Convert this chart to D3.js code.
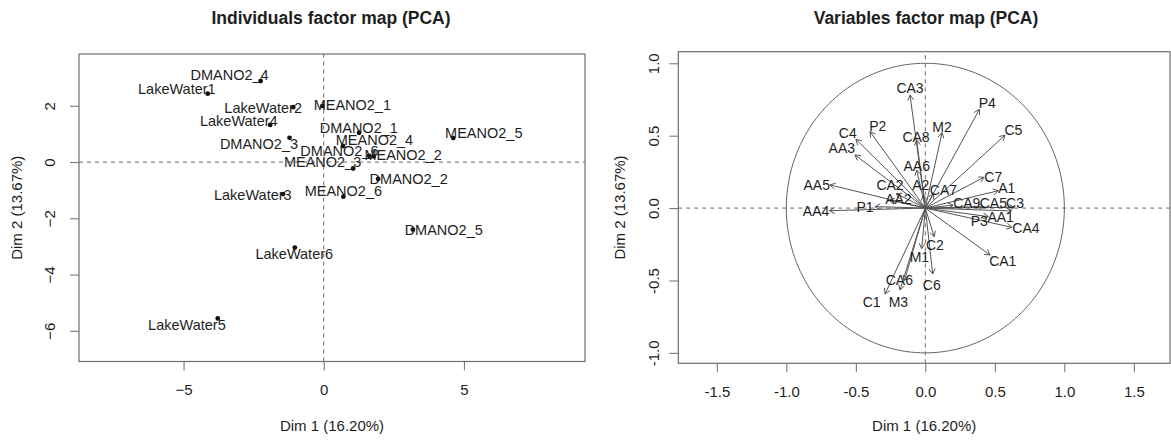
<!DOCTYPE html>
<html>
<head>
<meta charset="utf-8">
<script src="https://cdn.jsdelivr.net/npm/d3@7"></script>
<style>
  html, body { margin: 0; padding: 0; background: #fff; }
  svg { display: block; font-family: "Liberation Sans", Arial, Helvetica, sans-serif; }
</style>
</head>
<body>
<svg id="chart" width="1171" height="440"></svg>
<script>
// ---------- Individuals (PCA scores) ----------
const indNames = ["DMANO2_1","DMANO2_2","DMANO2_3","DMANO2_4","DMANO2_5","DMANO2_6",
                  "MEANO2_1","MEANO2_2","MEANO2_3","MEANO2_4","MEANO2_5","MEANO2_6",
                  "LakeWater1","LakeWater2","LakeWater3","LakeWater4","LakeWater5","LakeWater6"];
const indDim1 = [1.26, 1.94, -1.22, -2.25, 3.18, 1.62, -0.05, 1.78, 1.05, 0.69, 4.62, 0.70, -4.14, -1.09, -1.45, -1.91, -3.78, -1.03];
const indDim2 = [1.04, -0.60, 0.86, 2.88, -2.40, 0.22, 1.99, 0.20, -0.23, 0.57, 0.85, -1.23, 2.43, 1.95, -1.14, 1.32, -5.56, -3.04];
// label anchor positions (data units, as placed by autoLab)
const indLabDim1 = [1.25, 3.03, -2.31, -3.36, 4.28, 0.56, 1.02, 2.83, -0.04, 1.81, 5.71, 0.70, -5.24, -2.16, -2.53, -3.03, -4.88, -1.05];
const indLabDim2 = [1.22, -0.60, 0.66, 3.10, -2.42, 0.40, 2.03, 0.27, -0.01, 0.78, 1.02, -1.03, 2.59, 1.93, -1.17, 1.47, -5.80, -3.27];

const indXTicks = [-5, 0, 5];
const indYTicks = [-6, -4, -2, 0, 2];

// ---------- Variables (correlation circle) ----------
const varNames = ["CA3","P4","C5","M2","P2","CA8","C4","AA3","AA6","C7","A2","CA2","CA7","A1","AA5","AA2",
                  "CA9","CA5","C3","AA4","P1","P3","AA1","CA4","C2","CA1","M1","C6","CA6","C1","M3"];
const varDim1 = [-0.11, 0.389, 0.573, 0.120, -0.398, -0.062, -0.499, -0.506, -0.062, 0.422, -0.014, -0.21, 0.06, 0.525, -0.686, -0.26,
                 0.20, 0.42, 0.64, -0.69, -0.362, 0.453, 0.62, 0.622, 0.063, 0.465, -0.026, 0.053, -0.15, -0.29, -0.182];
const varDim2 = [0.78, 0.682, 0.503, 0.521, 0.528, 0.470, 0.475, 0.367, 0.263, 0.213, 0.09, 0.10, 0.10, 0.12, 0.16, 0.055,
                 0.02, 0.01, 0.005, -0.018, 0.010, -0.059, -0.02, -0.133, -0.197, -0.324, -0.28, -0.455, -0.50, -0.593, -0.566];
const varLabDim1 = [-0.11, 0.446, 0.633, 0.120, -0.342, -0.067, -0.558, -0.601, -0.062, 0.489, -0.033, -0.254, 0.130, 0.586, -0.781, -0.194,
                    0.298, 0.489, 0.645, -0.786, -0.434, 0.388, 0.542, 0.724, 0.069, 0.557, -0.043, 0.046, -0.187, -0.386, -0.194];
const varLabDim2 = [0.83, 0.724, 0.539, 0.562, 0.569, 0.493, 0.521, 0.413, 0.291, 0.213, 0.160, 0.160, 0.125, 0.137, 0.160, 0.061,
                    0.033, 0.033, 0.037, -0.018, 0.010, -0.087, -0.059, -0.140, -0.255, -0.363, -0.336, -0.531, -0.497, -0.646, -0.646];

const varXTicks = [-1.5, -1.0, -0.5, 0.0, 0.5, 1.0, 1.5];
const varYTicks = [-1.0, -0.5, 0.0, 0.5, 1.0];

const titles = ["Individuals factor map (PCA)", "Variables factor map (PCA)"];
const xLabel = "Dim 1 (16.20%)";
const yLabel = "Dim 2 (13.67%)";

// ---------- drawing ----------
const svg = d3.select("#chart");
const boxCol = "#6e6e6e", txtCol = "#1e1e1e", dashCol = "#6a6a6a";

function panel(opt) {
  const {x, y, xTicks, yTicks, xFmt, yFmt, title, titleX} = opt;
  const g = svg.append("g");
  const [x0, x1] = x.range(), [y0, y1] = y.range();
  // title
  g.append("text").attr("x", titleX).attr("y", 18).attr("dy", "0.35em")
    .attr("text-anchor", "middle").attr("font-weight", "bold").attr("font-size", 17.5)
    .attr("fill", txtCol).text(title);
  // x axis
  const ax = g.append("g").attr("transform", `translate(0,${y0})`)
    .call(d3.axisBottom(x).tickValues(xTicks).tickSize(9).tickSizeOuter(0).tickPadding(0).tickFormat(xFmt));
  ax.select(".domain").remove();
  ax.selectAll("line").attr("stroke", boxCol);
  ax.selectAll("text").attr("y", 28).attr("dy", "0.35em").attr("font-size", 15).attr("fill", txtCol).attr("font-family", null);
  // y axis
  const ay = g.append("g").attr("transform", `translate(${x0},0)`)
    .call(d3.axisLeft(y).tickValues(yTicks).tickSize(9).tickSizeOuter(0).tickPadding(0).tickFormat(yFmt));
  ay.select(".domain").remove();
  ay.selectAll("line").attr("stroke", boxCol);
  ay.selectAll("text").attr("x", 0).attr("y", opt.yLabOff).attr("dy", "0.35em")
    .attr("text-anchor", "middle").attr("transform", "rotate(-90)")
    .attr("font-size", 15).attr("fill", txtCol).attr("font-family", null);
  // axis titles
  g.append("text").attr("x", (x0 + x1) / 2).attr("y", 426).attr("dy", "0.35em")
    .attr("text-anchor", "middle").attr("font-size", 15).attr("fill", txtCol).text(xLabel);
  g.append("text").attr("transform", `translate(${opt.yTitleX},${(y0 + y1) / 2}) rotate(-90)`)
    .attr("dy", "0.35em").attr("text-anchor", "middle").attr("font-size", 15).attr("fill", txtCol).text(yLabel);
  // dashed reference lines
  g.append("line").attr("x1", x(0)).attr("x2", x(0)).attr("y1", y0).attr("y2", y1)
    .attr("stroke", dashCol).attr("stroke-dasharray", "4,4");
  g.append("line").attr("x1", x0).attr("x2", x1).attr("y1", y(0)).attr("y2", y(0))
    .attr("stroke", dashCol).attr("stroke-dasharray", "4,4");
  // box
  g.append("rect").attr("x", x0).attr("y", y1).attr("width", x1 - x0).attr("height", y0 - y1)
    .attr("fill", "none").attr("stroke", boxCol).attr("stroke-width", 1.2);
  return g;
}

// Left panel
const xL = d3.scaleLinear().domain([-8.73, 9.32]).range([79, 585]);
const yL = d3.scaleLinear().domain([-7.09, 3.84]).range([361.5, 54]);
const gL = panel({x: xL, y: yL, xTicks: indXTicks, yTicks: indYTicks,
  xFmt: d3.format("d"), yFmt: d3.format("d"), title: titles[0], titleX: 331, yLabOff: -29, yTitleX: 17});

const inds = indNames.map((n, i) => ({n, x: indDim1[i], y: indDim2[i], lx: indLabDim1[i], ly: indLabDim2[i]}));
gL.selectAll("circle.pt").data(inds).join("circle").attr("class", "pt")
  .attr("cx", d => xL(d.x)).attr("cy", d => yL(d.y)).attr("r", 2.4).attr("fill", "#111");
gL.selectAll("text.lab").data(inds).join("text").attr("class", "lab")
  .attr("x", d => xL(d.lx)).attr("y", d => yL(d.ly)).attr("dy", "0.35em")
  .attr("text-anchor", "middle").attr("font-size", 14.5).attr("fill", txtCol).text(d => d.n);

// Right panel
const xR = d3.scaleLinear().domain([-1.777, 1.760]).range([678.3, 1170]);
const yR = d3.scaleLinear().domain([-1.072, 1.080]).range([363.3, 51.7]);
const fmt1 = d => d3.format(".1f")(d).replace("−", "-");
const gR = panel({x: xR, y: yR, xTicks: varXTicks, yTicks: varYTicks,
  xFmt: fmt1, yFmt: fmt1, title: titles[1], titleX: 926, yLabOff: -25, yTitleX: 620});

// unit circle
const circ = d3.range(0, 361, 2).map(a => [Math.cos(a * Math.PI / 180), Math.sin(a * Math.PI / 180)]);
gR.append("path").attr("d", d3.line().x(d => xR(d[0])).y(d => yR(d[1]))(circ))
  .attr("fill", "none").attr("stroke", "#666").attr("stroke-width", 1);

const vars = varNames.map((n, i) => ({n, x: varDim1[i], y: varDim2[i], lx: varLabDim1[i], ly: varLabDim2[i]}));
const arrowCol = "#555";
const ag = gR.append("g").attr("stroke", arrowCol).attr("stroke-width", 1).attr("fill", "none");
vars.forEach(d => {
  const sx = xR(0), sy = yR(0), ex = xR(d.x), ey = yR(d.y);
  ag.append("line").attr("x1", sx).attr("y1", sy).attr("x2", ex).attr("y2", ey);
  const ang = Math.atan2(ey - sy, ex - sx), L = 6, w = Math.PI / 6;
  const p1 = [ex - L * Math.cos(ang - w), ey - L * Math.sin(ang - w)];
  const p2 = [ex - L * Math.cos(ang + w), ey - L * Math.sin(ang + w)];
  ag.append("path").attr("d", `M${p1[0]},${p1[1]}L${ex},${ey}L${p2[0]},${p2[1]}`);
});
gR.selectAll("text.vlab").data(vars).join("text").attr("class", "vlab")
  .attr("x", d => xR(d.lx)).attr("y", d => yR(d.ly)).attr("dy", "0.35em")
  .attr("text-anchor", "middle").attr("font-size", 14).attr("fill", txtCol).text(d => d.n);
</script>
</body>
</html>
